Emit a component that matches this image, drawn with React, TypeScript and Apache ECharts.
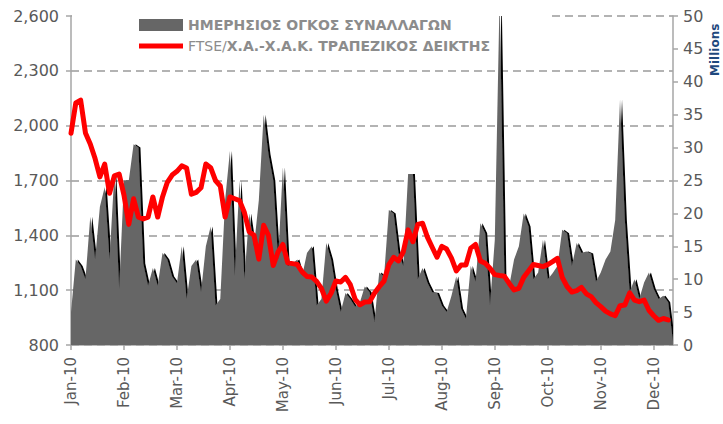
import { useEffect, useRef } from 'react';
import * as echarts from 'echarts';

const months = ['Jan-10', 'Feb-10', 'Mar-10', 'Apr-10', 'May-10', 'Jun-10', 'Jul-10', 'Aug-10', 'Sep-10', 'Oct-10', 'Nov-10', 'Dec-10'];
const pointsPerMonth = [11, 11, 11, 11, 11, 11, 11, 11, 11, 11, 11, 5];

// Daily trading volume (millions), sampled every ~2 trading days
const volJan = [5, 13, 12, 10, 19.5, 13, 21, 24, 13, 26, 8.5];
const volFeb = [25, 25, 30.5, 30, 12.4, 9, 11.7, 9, 14, 13, 10.4];
const volMar = [9.4, 15, 7, 12, 13, 8, 15, 18, 6, 7, 22];
const volApr = [29.5, 10.5, 25, 10, 20, 15, 22, 35, 29, 25, 13];
const volMay = [27, 12, 12.4, 13, 10.5, 14, 15, 6, 7, 15.5, 13];
const volJun = [8.4, 5, 7.9, 7, 5.8, 6.5, 8.9, 8, 3.5, 11, 10.4];
const volJul = [20.5, 20, 14, 12, 26, 26, 10, 11.7, 9.5, 8, 7.9];
const volAug = [6, 5, 7.5, 10.4, 5.5, 4, 12, 9.6, 18.5, 17, 6];
const volSep = [16, 53, 10, 9, 13, 15, 20, 18, 10, 11, 16];
const volOct = [10, 10.9, 12, 17.5, 17, 12, 15.5, 14, 14.2, 13.9, 9.6];
const volNov = [11, 13, 14.2, 19, 37.3, 19, 8, 10, 7, 9.5, 11];
const volDec = [8.5, 7, 7.5, 6.5, 0.5];

// FTSE/ATHEX banks index
const idxJan = [1958, 2125, 2140, 1960, 1900, 1820, 1720, 1790, 1630, 1725, 1735];
const idxFeb = [1620, 1460, 1600, 1500, 1490, 1500, 1610, 1500, 1610, 1690, 1730];
const idxMar = [1750, 1780, 1768, 1625, 1635, 1660, 1790, 1770, 1700, 1670, 1500];
const idxApr = [1610, 1600, 1590, 1525, 1420, 1400, 1270, 1455, 1400, 1235, 1310];
const idxMay = [1350, 1250, 1245, 1240, 1200, 1175, 1172, 1148, 1110, 1040, 1083];
const idxJun = [1150, 1145, 1170, 1130, 1050, 1020, 1035, 1037, 1083, 1119, 1150];
const idxJul = [1240, 1280, 1260, 1310, 1430, 1365, 1460, 1466, 1390, 1335, 1280];
const idxAug = [1340, 1325, 1275, 1205, 1238, 1238, 1330, 1350, 1260, 1247, 1220];
const idxSep = [1185, 1180, 1176, 1137, 1101, 1110, 1170, 1205, 1240, 1235, 1229];
const idxOct = [1240, 1256, 1274, 1170, 1120, 1090, 1098, 1115, 1080, 1065, 1032];
const idxNov = [1010, 985, 970, 960, 1015, 1019, 1085, 1046, 1037, 1046, 990];
const idxDec = [960, 935, 945, 937, null];

const volume = [...volJan, ...volFeb, ...volMar, ...volApr, ...volMay, ...volJun, ...volJul, ...volAug, ...volSep, ...volOct, ...volNov, ...volDec];
const bankIndex = [...idxJan, ...idxFeb, ...idxMar, ...idxApr, ...idxMay, ...idxJun, ...idxJul, ...idxAug, ...idxSep, ...idxOct, ...idxNov, ...idxDec];
const categories = months.flatMap((m, k) => Array.from({ length: pointsPerMonth[k] }, (_, d) => `${m} ${d + 1}`));

const VOL_NAME = 'ΗΜΕΡΗΣΙΟΣ ΟΓΚΟΣ ΣΥΝΑΛΛΑΓΩΝ';
const IDX_NAME = 'FTSE/Χ.Α.-Χ.Α.Κ. ΤΡΑΠΕΖΙΚΟΣ ΔΕΙΚΤΗΣ';

const FONT = 'DejaVu Sans';
const AXIS_COLOR = '#a6a6a6';
const LABEL_COLOR = '#595959';

export default function App() {
  const ref = useRef<HTMLDivElement>(null);
  useEffect(() => {
    const chart = echarts.init(ref.current!, null, { renderer: 'svg' });
    chart.setOption({
      animation: false,
      backgroundColor: '#ffffff',
      grid: { left: 71, right: 50, top: 16, bottom: 79 },
      legend: [
        {
          data: [{ name: VOL_NAME, icon: 'rect' }],
          left: 134,
          top: 13,
          itemWidth: 44,
          itemHeight: 12,
          textStyle: { fontFamily: FONT, fontWeight: 'bold', fontSize: 14, color: '#8c8c8c' },
        },
        {
          data: [{ name: IDX_NAME, icon: 'rect' }],
          left: 134,
          top: 34,
          itemWidth: 44,
          itemHeight: 5,
          formatter: () => '{a|FTSE/}{b|Χ.Α.-Χ.Α.Κ. ΤΡΑΠΕΖΙΚΟΣ ΔΕΙΚΤΗΣ}',
          textStyle: {
            fontFamily: FONT,
            fontSize: 14,
            color: '#8c8c8c',
            rich: {
              a: { fontFamily: FONT, fontSize: 14, color: '#8c8c8c', fontWeight: 'normal' },
              b: { fontFamily: FONT, fontSize: 14, color: '#8c8c8c', fontWeight: 'bold' },
            },
          },
        },
      ],
      xAxis: {
        type: 'category',
        data: categories,
        boundaryGap: false,
        axisLine: { lineStyle: { color: AXIS_COLOR, width: 1.5 } },
        axisTick: { interval: 10, length: 5, lineStyle: { color: AXIS_COLOR, width: 1.5 } },
        axisLabel: {
          interval: 10,
          rotate: 90,
          margin: 12,
          color: LABEL_COLOR,
          fontFamily: FONT,
          fontSize: 15,
          formatter: (v: string) => v.split(' ')[0],
        },
        splitLine: { show: false },
      },
      yAxis: [
        {
          type: 'value',
          position: 'left',
          min: 800,
          max: 2600,
          interval: 300,
          axisLine: { show: true, lineStyle: { color: AXIS_COLOR, width: 1.5 } },
          axisTick: { show: true, length: 5, lineStyle: { color: AXIS_COLOR, width: 1.5 } },
          axisLabel: {
            margin: 12,
            color: LABEL_COLOR,
            fontFamily: FONT,
            fontSize: 16,
            formatter: (v: number) => v.toLocaleString('en-US'),
          },
          splitLine: { show: true, lineStyle: { color: '#9a9a9a', width: 1.5, type: [8, 5] } },
        },
        {
          type: 'value',
          position: 'right',
          min: 0,
          max: 50,
          interval: 5,
          axisLine: { show: true, lineStyle: { color: AXIS_COLOR, width: 1.5 } },
          axisTick: { show: true, length: 5, lineStyle: { color: AXIS_COLOR, width: 1.5 } },
          axisLabel: { margin: 10, color: LABEL_COLOR, fontFamily: FONT, fontSize: 16 },
          splitLine: { show: false },
        },
      ],
      graphic: [
        { type: 'rect', z: 1, shape: { x: 72, y: 11, width: 476, height: 10 }, style: { fill: '#ffffff' } },
        {
          type: 'text',
          x: 715,
          y: 76,
          rotation: Math.PI / 2,
          style: {
            text: 'Millions',
            fill: '#1f497d',
            font: `bold 12px "${FONT}"`,
            textAlign: 'left',
            textVerticalAlign: 'middle',
          },
        },
      ],
      series: [
        {
          name: VOL_NAME,
          type: 'line',
          yAxisIndex: 1,
          data: volume,
          symbol: 'none',
          z: 2,
          itemStyle: { color: '#666666' },
          lineStyle: { width: 0, opacity: 0 },
          areaStyle: { color: '#666666', opacity: 1, shadowColor: '#000000', shadowOffsetX: 2, shadowBlur: 0 },
        },
        {
          name: IDX_NAME,
          type: 'line',
          yAxisIndex: 0,
          data: bankIndex,
          symbol: 'none',
          z: 3,
          itemStyle: { color: '#ff0000' },
          lineStyle: { color: '#ff0000', width: 5, join: 'round', cap: 'round' },
        },
      ],
    });
    return () => chart.dispose();
  }, []);
  return <div ref={ref} style={{ position: 'fixed', left: 0, top: 0, width: 723, height: 424 }} />;
}
